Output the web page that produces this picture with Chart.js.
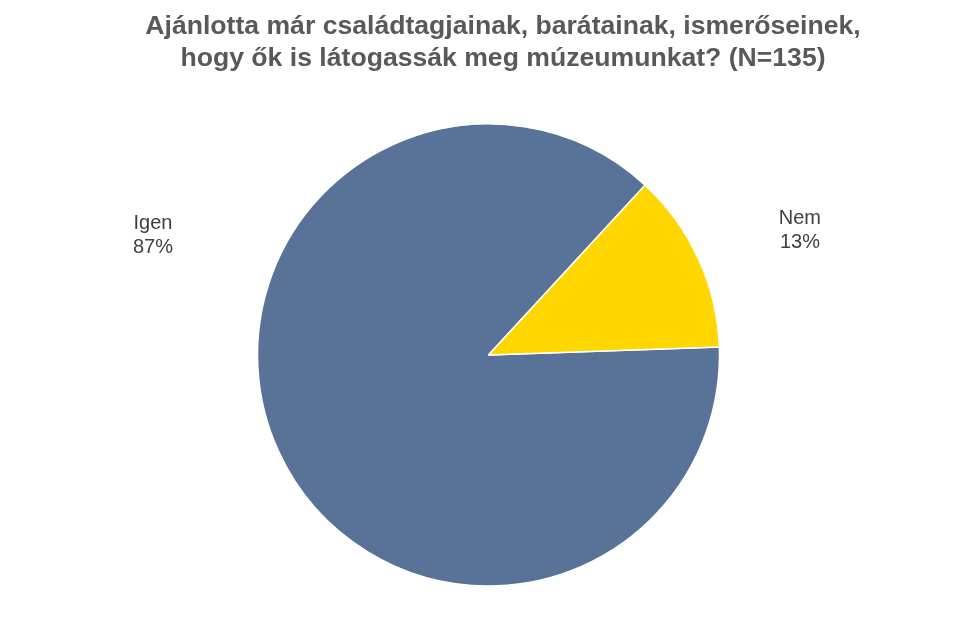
<!DOCTYPE html>
<html>
<head>
<meta charset="utf-8">
<script src="https://cdn.jsdelivr.net/npm/chart.js@4/dist/chart.umd.min.js"></script>
<style>
  html, body { margin: 0; padding: 0; background: #fff; }
  #wrap { width: 975px; height: 637px; position: relative; }
</style>
</head>
<body>
<div id="wrap"><canvas id="pie"></canvas></div>
<script>
const titleLines = [
  'Ajánlotta már családtagjainak, barátainak, ismerőseinek,',
  'hogy ők is látogassák meg múzeumunkat? (N=135)'
];
const categories = ['Igen', 'Nem'];
const counts = [118, 17];
const sliceColors = ['#587397', '#FFD700'];

const total = counts.reduce((a, b) => a + b, 0);

// title is a bit right of the pie centre in the original, so draw it ourselves
const topTitle = {
  id: 'topTitle',
  afterDraw(chart, args, opts) {
    const ctx = chart.ctx;
    ctx.save();
    ctx.font = opts.font;
    ctx.fillStyle = opts.color;
    ctx.textAlign = 'center';
    ctx.textBaseline = 'alphabetic';
    opts.lines.forEach((line, i) => {
      ctx.fillText(line, opts.x, opts.baseline + i * opts.lineHeight);
    });
    ctx.restore();
  }
};

// labels sit outside the pie, like in the original
const outsideLabels = {
  id: 'outsideLabels',
  afterDatasetsDraw(chart, args, opts) {
    const ctx = chart.ctx;
    const meta = chart.getDatasetMeta(0);
    ctx.save();
    ctx.font = opts.font;
    ctx.fillStyle = opts.color;
    ctx.textAlign = 'center';
    ctx.textBaseline = 'middle';
    meta.data.forEach((arc, i) => {
      const a = (opts.angles[i] - 90) * Math.PI / 180;
      const r = arc.outerRadius * opts.dist[i];
      const x = arc.x + Math.cos(a) * r;
      const y = arc.y + Math.sin(a) * r + 1.5;
      const pct = Math.round(counts[i] / total * 100) + '%';
      ctx.fillText(categories[i], x, y - opts.lineGap / 2);
      ctx.fillText(pct, x, y + opts.lineGap / 2);
    });
    ctx.restore();
  }
};

new Chart(document.getElementById('pie'), {
  type: 'pie',
  data: {
    labels: categories,
    datasets: [{
      data: counts,
      backgroundColor: sliceColors,
      borderColor: '#ffffff',
      borderWidth: 1.5
    }]
  },
  options: {
    responsive: true,
    maintainAspectRatio: false,
    animation: false,
    rotation: 88,
    layout: { padding: { left: 2, right: 0, top: 123.25, bottom: 50.25 } },
    plugins: {
      legend: { display: false },
      tooltip: { enabled: false },
      title: { display: false },
      topTitle: {
        lines: titleLines,
        font: 'bold 26.6px "Liberation Sans", Arial, sans-serif',
        color: '#595959',
        x: 503,
        baseline: 34,
        lineHeight: 31.5
      },
      outsideLabels: {
        font: '20px "Liberation Sans", Arial, sans-serif',
        color: '#404040',
        angles: [289.8, 68],
        dist: [1.544, 1.454],
        lineGap: 24
      }
    }
  },
  plugins: [outsideLabels, topTitle]
});
</script>
</body>
</html>
